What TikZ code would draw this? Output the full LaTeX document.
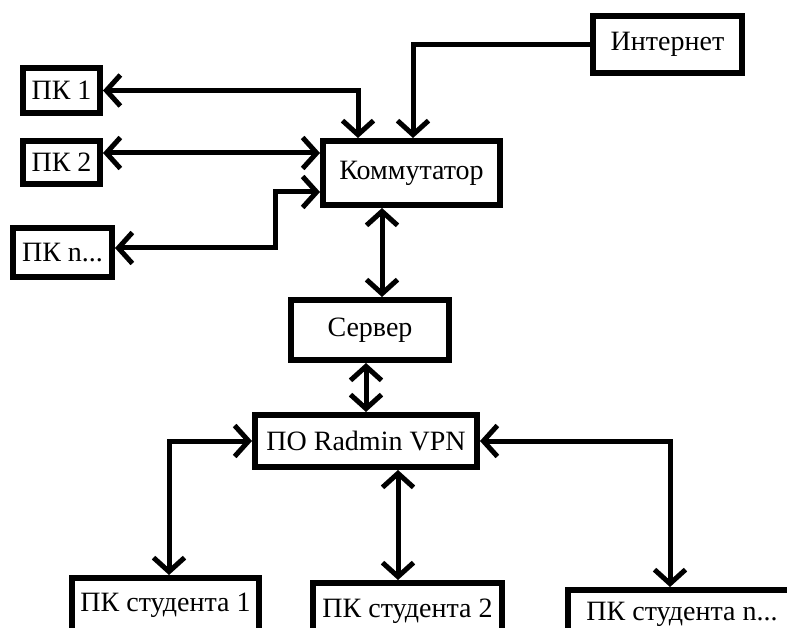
\documentclass[tikz,border=0pt]{standalone}
\usepackage{fontspec}
\setmainfont{Liberation Serif}
\usetikzlibrary{arrows.meta}
\begin{document}
\begin{tikzpicture}[x=1pt,y=-1pt,
  box/.style={draw=black,line width=6pt,fill=white,inner sep=0pt,font=\fontsize{28}{31}\selectfont},
  link/.style={line width=5pt,line join=miter},
  bi/.style={link,{Straight Barb[length=14pt,width=31pt]}-{Straight Barb[length=14pt,width=31pt]}},
  one/.style={link,-{Straight Barb[length=14pt,width=31pt]}}]
\clip (0,0) rectangle (787,628);
\fill[white] (0,0) rectangle (787,628);
% nodes
\node[box,minimum width=77pt,minimum height=45pt] (pc1) at (61.5,90.5) {ПК 1};
\node[box,minimum width=77pt,minimum height=43pt] (pc2) at (61.5,162.5) {ПК 2};
\node[box,minimum width=99pt,minimum height=49pt] (pcn) at (62.5,252.5) {ПК n...};
\node[box,minimum width=177pt,minimum height=64pt] (kom) at (411.5,173) {Коммутатор};
\node[box,minimum width=149pt,minimum height=57pt] (inet) at (667.5,44.5) {Интернет};
\node[box,minimum width=158pt,minimum height=60pt] (serv) at (370,330) {Сервер};
\node[box,minimum width=222pt,minimum height=52pt] (vpn) at (366,441) {ПО Radmin VPN};
\node[box,minimum width=187pt,minimum height=74pt] (s1) at (165.5,615) {\raisebox{25pt}{ПК студента 1}};
\node[box,minimum width=189pt,minimum height=74pt] (s2) at (407.5,620) {\raisebox{23pt}{ПК студента 2}};
\node[box,minimum width=229pt,minimum height=74pt] (sn) at (682,627) {\raisebox{32pt}{ПК студента n...}};
% helper coordinates
\coordinate (k1) at (358,90);
\coordinate (k2) at (413,44.5);
\coordinate (k3) at (0,153);
\coordinate (k4) at (275,248);
\coordinate (k5) at (0,192);
\coordinate (k6) at (382,0);
\coordinate (k7) at (169,441);
\coordinate (k8) at (398,0);
\coordinate (k9) at (670,441);
% connectors
\draw[bi] (pc1.east) -| (kom.north -| k1);
\draw[one] (inet.west) -| (kom.north -| k2);
\draw[bi] (pc2.east |- k3) -- (kom.west |- k3);
\draw[bi] (pcn.east |- k4) -- (k4) |- (kom.west |- k5);
\draw[bi] (kom.south -| k6) -- (serv.north -| k6);
\draw[bi] (serv.south -| vpn.north) -- (vpn.north);
\draw[bi] (vpn.west) -- (k7) -- (s1.north -| k7);
\draw[bi] (vpn.south -| k8) -- (s2.north -| k8);
\draw[bi] (vpn.east) -- (k9) -- (sn.north -| k9);
\end{tikzpicture}
\end{document}
